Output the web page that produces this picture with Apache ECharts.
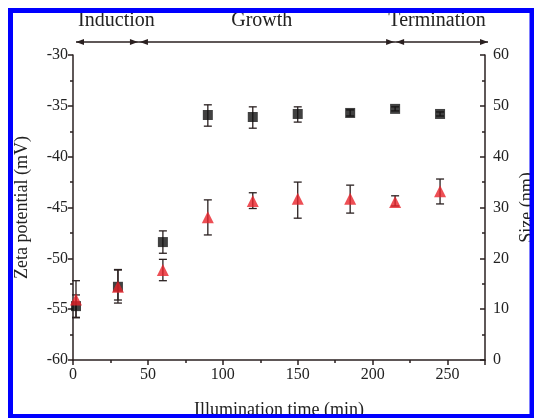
<!DOCTYPE html>
<html>
<head>
<meta charset="utf-8">
<script src="https://cdn.jsdelivr.net/npm/echarts@6/dist/echarts.min.js"></script>
<style>
  html, body { margin: 0; padding: 0; background: #fff; }
  #chart { width: 534px; height: 418px; }
</style>
</head>
<body>
<div id="chart"></div>
<script>
// illumination time (min)
const timeMin = [2, 30, 60, 90, 120, 150, 185, 215, 245]
// zeta potential (mV) and its error bars
const zeta = [-54.7, -52.8, -48.4, -35.9, -36.1, -35.8, -35.7, -35.3, -35.8]
const zetaLow = [-55.8, -54.4, -49.5, -37.0, -37.2, -36.6, -36.0, -35.5, -36.0]
const zetaHigh = [-53.6, -51.1, -47.3, -34.9, -35.1, -35.1, -35.4, -35.1, -35.6]
// particle size (nm) and its error bars
const size = [11.9, 14.4, 17.7, 28.1, 31.3, 31.7, 31.7, 31.1, 33.2]
const sizeLow = [8.3, 11.8, 15.6, 24.6, 29.8, 27.9, 28.9, 30.3, 30.7]
const sizeHigh = [15.6, 17.7, 19.8, 31.5, 32.9, 35.0, 34.4, 32.3, 35.6]
// phases on top: boundaries in minutes, label positions
const phaseBounds = [2, 44, 215, 277]
const phaseNames = ['Induction', 'Growth', 'Termination']
const phaseLabelT = [29, 126, 243]

const serif = '"Liberation Serif", "DejaVu Serif", serif'
const ink = '#2a2020'

const chart = echarts.init(document.getElementById('chart'))

const errBar = (params, api) => {
  const x = api.value(0)
  const p1 = api.coord([x, api.value(1)])
  const p2 = api.coord([x, api.value(2)])
  const w = 4
  const style = { stroke: ink, lineWidth: 1.3 }
  return {
    type: 'group',
    children: [
      { type: 'line', shape: { x1: p1[0], y1: p1[1], x2: p2[0], y2: p2[1] }, style },
      { type: 'line', shape: { x1: p1[0] - w, y1: p1[1], x2: p1[0] + w, y2: p1[1] }, style },
      { type: 'line', shape: { x1: p2[0] - w, y1: p2[1], x2: p2[0] + w, y2: p2[1] }, style }
    ]
  }
}

const axisText = { fontFamily: serif, fontSize: 16, color: '#222' }
const nameText = { fontFamily: serif, fontSize: 18, color: '#222' }

chart.setOption({
  animation: false,
  grid: { left: 73, right: 49, top: 55, bottom: 58, outerBoundsMode: 'none', containLabel: false },
  xAxis: {
    type: 'value', min: 0, max: 275, interval: 50,
    splitLine: { show: false },
    axisLine: { lineStyle: { color: ink, width: 1.5 } },
    axisTick: { length: 5, lineStyle: { color: ink, width: 1.5 } },
    minorTick: { show: true, splitNumber: 2, length: 3, lineStyle: { color: ink, width: 1.5 } },
    axisLabel: { ...axisText, margin: 7, showMaxLabel: false },
    name: 'Illumination time (min)', nameLocation: 'middle', nameGap: 41, nameMoveOverlap: false,
    nameTextStyle: nameText
  },
  yAxis: [
    {
      type: 'value', min: -60, max: -30, interval: 5, position: 'left',
      splitLine: { show: false },
      axisLine: { show: true, lineStyle: { color: ink, width: 1.5 } },
      axisTick: { length: 5, lineStyle: { color: ink, width: 1.5 } },
      minorTick: { show: true, splitNumber: 2, length: 3, lineStyle: { color: ink, width: 1.5 } },
      axisLabel: { ...axisText, margin: 5 },
      name: 'Zeta potential (mV)', nameLocation: 'middle', nameGap: 42, nameRotate: 90, nameMoveOverlap: false,
      nameTextStyle: nameText
    },
    {
      type: 'value', min: 0, max: 60, interval: 10, position: 'right',
      splitLine: { show: false },
      axisLine: { show: true, lineStyle: { color: ink, width: 1.5 } },
      axisTick: { inside: true, length: 5, lineStyle: { color: ink, width: 1.5 } },
      minorTick: { show: true, splitNumber: 2, length: 3, lineStyle: { color: ink, width: 1.5 } },
      axisLabel: { ...axisText, margin: 8 },
      name: 'Size (nm)', nameLocation: 'middle', nameGap: 33, nameRotate: 90, nameMoveOverlap: false,
      nameTextStyle: nameText
    }
  ],
  series: [
    {
      type: 'custom', yAxisIndex: 0, z: 1,
      data: timeMin.map((t, i) => [t, zetaLow[i], zetaHigh[i]]),
      renderItem: errBar
    },
    {
      type: 'custom', yAxisIndex: 1, z: 1,
      data: timeMin.map((t, i) => [t, sizeLow[i], sizeHigh[i]]),
      renderItem: errBar
    },
    {
      name: 'Zeta', type: 'scatter', yAxisIndex: 0, z: 3,
      symbol: 'rect', symbolSize: 10,
      itemStyle: { color: '#111' },
      data: timeMin.map((t, i) => [t, zeta[i]])
    },
    {
      name: 'Size', type: 'scatter', yAxisIndex: 1, z: 4,
      symbol: 'triangle', symbolSize: 12,
      itemStyle: { color: '#e8232b' },
      data: timeMin.map((t, i) => [t, size[i]])
    }
  ]
})

// phase arrows and labels above the plot, placed through the x scale
const px = t => chart.convertToPixel({ xAxisIndex: 0 }, t)
const arrowY = 42
const head = (x, dir) => ({
  type: 'polygon',
  shape: { points: [[x, arrowY], [x - dir * 8, arrowY - 3], [x - dir * 8, arrowY + 3]] },
  style: { fill: ink }
})
const graphics = []
for (let i = 0; i < phaseNames.length; i++) {
  const a = px(phaseBounds[i])
  const b = px(phaseBounds[i + 1])
  graphics.push({
    type: 'line', shape: { x1: a, y1: arrowY, x2: b, y2: arrowY },
    style: { stroke: ink, lineWidth: 1.5 }
  })
  graphics.push(head(a + (i > 0 ? 1 : 0), -1))
  graphics.push(head(b - (i < phaseNames.length - 1 ? 1 : 0), 1))
  graphics.push({
    type: 'text', x: px(phaseLabelT[i]), y: 21,
    style: { text: phaseNames[i], fontFamily: serif, fontSize: 20, fill: '#222', align: 'center', verticalAlign: 'middle' }
  })
}
// blue frame
graphics.push({
  type: 'rect', z: 100,
  shape: { x: 10.5, y: 10.5, width: 521.5, height: 406 },
  style: { fill: 'none', stroke: '#0000ff', lineWidth: 5 }
})
chart.setOption({ graphic: graphics })
</script>
</body>
</html>
